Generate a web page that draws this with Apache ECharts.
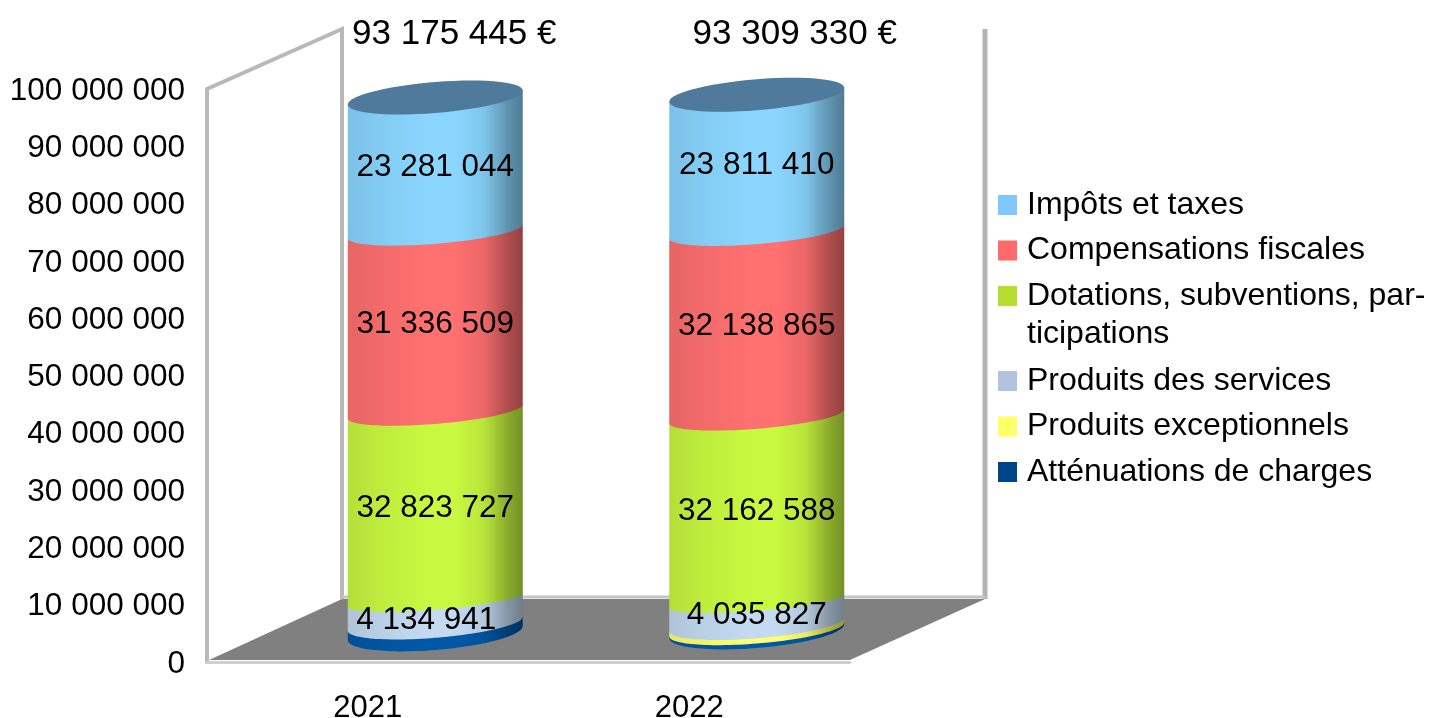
<!DOCTYPE html>
<html><head><meta charset="utf-8">
<style>html,body{margin:0;padding:0;background:#fff}#c{width:1430px;height:718px}</style>
<script src="https://cdn.jsdelivr.net/npm/echarts@6/dist/echarts.min.js"></script>
</head><body><div id="c"></div>
<script>
const categories = ['2021', '2022'];
const tickMax = 100000000;
const tickStep = 10000000;
const attenuations = [1599224, 260640];
const exceptionnels = [0, 900000];
const services = [4134941, 4035827];
const dotations = [32823727, 32162588];
const compensations = [31336509, 32138865];
const impots = [23281044, 23811410];
const totals = ['93 175 445 €', '93 309 330 €'];
const names = ['Atténuations de charges', 'Produits exceptionnels', 'Produits des services',
  'Dotations, subventions, participations', 'Compensations fiscales', 'Impôts et taxes'];

const stackValues = [attenuations, exceptionnels, services, dotations, compensations, impots];
const legendColors = ['#004586', '#FFFF66', '#B0C4DE', '#B4DD30', '#FF6B6B', '#7FC8FF'];
const brightColors = ['#0058A8', '#FFFF70', '#C3DAF0', '#C8F83F', '#FF7070', '#8AD6FF'];
const showLabel = [false, false, true, true, true, true];
const capColor = '#4F7A9C';
const FONT = '"Liberation Sans", Arial, sans-serif';

// projection of the pseudo-3D box
const wallDX = 135, wallFloorDY = -63, wallTopDY = -60;
const cylDX = 67.5, cylDYs = [-29, -31], cylScale = 1.003;
const cylHalfW = 87.5, cylTilt = -7, capMinor = 15.5;
const lowerMinor = [17, 14, 14, 9.5, 12.5, 12.5];
const labelDY = 2.5;
const labelShift = {'0-2': [-9, 6]};
const totalShift = [[19, -63], [38, -60]];

function shade(hex, f) {
  const n = parseInt(hex.slice(1), 16);
  const c = [n >> 16, (n >> 8) & 255, n & 255].map(v => Math.round(v * f));
  return 'rgb(' + c.join(',') + ')';
}
function gradient(hex) {
  const stops = [[0, .9], [.18, .95], [.45, 1], [.62, 1], [.78, .92], [.92, .68], [1, .58]];
  return new echarts.graphic.LinearGradient(0, 0, 1, 0, stops.map(s => ({offset: s[0], color: shade(hex, s[1])})));
}
function arc(cx, cy, from, to, minor) {
  const pts = [];
  for (let i = 0; i <= 60; i++) {
    const t = from + (to - from) * i / 60;
    pts.push([cx + cylHalfW * Math.cos(t), cy + cylTilt * Math.cos(t) + minor * Math.sin(t)]);
  }
  return pts;
}
function project(api, idx, v) {
  const p0 = api.coord([idx, 0]), p = api.coord([idx, v]);
  return [p[0] + cylDX, p0[1] + cylDYs[idx] + (p[1] - p0[1]) * cylScale];
}

function renderFrame(params) {
  const g = params.coordSys;
  const x0 = g.x, x1 = g.x + g.width, yb = g.y + g.height, yt = g.y;
  return {type: 'group', children: [
    {type: 'polygon', shape: {points: [[x0 + 2, yb - 2], [x0 + wallDX, yb + wallFloorDY], [x1 + wallDX, yb + wallFloorDY], [x1, yb - 2]]},
      style: {fill: '#808080'}, z2: 1},
    {type: 'line', shape: {x1: x0 + wallDX, y1: yb + wallFloorDY - 2, x2: x1 + wallDX, y2: yb + wallFloorDY - 2},
      style: {stroke: '#C4C4C4', lineWidth: 3}, z2: 2},
    {type: 'polyline', shape: {points: [[x0, yt], [x0 + wallDX, yt + wallTopDY], [x0 + wallDX, yb + wallFloorDY]]},
      style: {stroke: '#B8B8B8', lineWidth: 4, fill: null}, z2: 0},
    {type: 'line', shape: {x1: x1 + wallDX, y1: yt + wallTopDY, x2: x1 + wallDX, y2: yb + wallFloorDY},
      style: {stroke: '#B3B3B3', lineWidth: 5}, z2: 0}
  ]};
}

function makeRender(s) {
  return function (params, api) {
    const idx = api.value(0), from = api.value(1), to = api.value(2);
    const children = [];
    if (to > from) {
      const a = project(api, idx, from), b = project(api, idx, to);
      const lower = arc(a[0], a[1], Math.PI, 0, lowerMinor[s]);
      const upper = arc(b[0], b[1], 0, Math.PI, 0);
      children.push({type: 'polygon', z2: 3 + s, shape: {points: lower.concat(upper)}, style: {fill: gradient(brightColors[s])}});
      if (showLabel[s]) {
        const sh = labelShift[idx + '-' + s] || [0, 0];
        children.push({type: 'text', z2: 50, style: {
          text: String(to - from).replace(/\B(?=(\d{3})+$)/g, ' '),
          x: a[0] + sh[0], y: (a[1] + b[1]) / 2 + sh[1] + labelDY, align: 'center', verticalAlign: 'middle',
          font: '31.5px ' + FONT, fill: '#000'}});
      }
      if (s === stackValues.length - 1) {
        children.push({type: 'polygon', z2: 20, shape: {points: arc(b[0], b[1], 0, Math.PI * 2, capMinor)}, style: {fill: capColor}});
        children.push({type: 'text', z2: 50, style: {
          text: totals[idx], x: b[0] + totalShift[idx][0], y: b[1] + totalShift[idx][1],
          align: 'center', verticalAlign: 'middle', font: '35px ' + FONT, fill: '#000'}});
      }
    }
    return {type: 'group', children};
  };
}

const running = categories.map(() => 0);
const series = [{type: 'custom', silent: true, z: 1, renderItem: renderFrame, data: [[0, 0, 0]],
  encode: {x: 0, y: 1}, clip: false}];
stackValues.forEach((vals, s) => {
  const data = vals.map((v, i) => { const r = [i, running[i], running[i] + v]; running[i] += v; return r; });
  series.push({name: names[s], type: 'custom', silent: true, z: 3, clip: false,
    itemStyle: {color: legendColors[s]}, renderItem: makeRender(s), encode: {x: 0, y: [1, 2]}, data});
});

const legendBase = {
  orient: 'vertical', left: 993, icon: 'rect', itemWidth: 19, itemHeight: 20, itemGap: 13.5,
  selectedMode: false,
  textStyle: {fontFamily: FONT, fontSize: 32, color: '#000', lineHeight: 30, padding: [0, 0, 0, 5]},
  formatter: n => n === names[3] ? 'Dotations, subventions, par-' : n
};
const chart = echarts.init(document.getElementById('c'), null, {renderer: 'canvas'});
chart.setOption({
  animation: false,
  backgroundColor: '#fff',
  grid: {left: 207, right: 580, top: 89, bottom: 56, containLabel: false, outerBoundsMode: 'none'},
  xAxis: {type: 'category', data: categories,
    axisLine: {show: true, lineStyle: {color: '#CFCFCF', width: 3}}, axisTick: {show: false},
    axisLabel: {margin: 31, fontFamily: FONT, fontSize: 31, color: '#000'}},
  yAxis: {type: 'value', min: 0, max: tickMax, interval: tickStep,
    axisLine: {show: true, lineStyle: {color: '#B8B8B8', width: 4}}, axisTick: {show: false}, splitLine: {show: false},
    axisLabel: {margin: 22, color: '#000',
      rich: {t: {fontFamily: FONT, fontSize: 31.5, color: '#000', padding: [4, 0, 0, 0]}},
      formatter: v => '{t|' + String(v).replace(/\B(?=(\d{3})+$)/g, ' ') + '}'}},
  legend: [
    Object.assign({}, legendBase, {top: 184, data: [names[5], names[4], names[3]]}),
    Object.assign({}, legendBase, {top: 360, data: [names[2], names[1], names[0]]})
  ],
  graphic: [{type: 'text', left: 1027, top: 318,
    style: {text: 'ticipations', font: '32px ' + FONT, fill: '#000'}}],
  series
});
</script></body></html>
